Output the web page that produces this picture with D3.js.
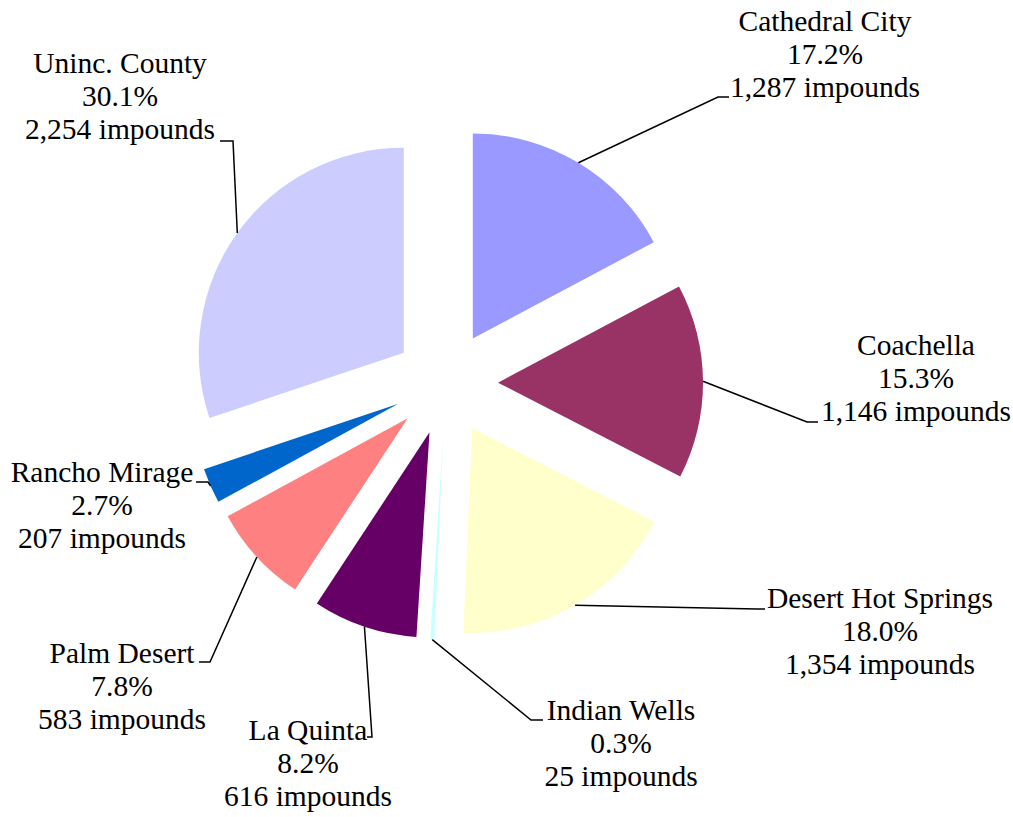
<!DOCTYPE html>
<html>
<head>
<meta charset="utf-8">
<script src="https://cdn.jsdelivr.net/npm/d3@7"></script>
<style>
  html, body { margin: 0; padding: 0; background: #fff; }
  svg { display: block; }
</style>
</head>
<body>
<div id="chart-container"></div>
<script>
// Impounds by city (exploded pie)
const cities = ["Cathedral City", "Coachella", "Desert Hot Springs", "Indian Wells",
  "La Quinta", "Palm Desert", "Rancho Mirage", "Uninc. County"];
const impounds = [1287, 1146, 1354, 25, 616, 583, 207, 2254];
const percentLabels = ["17.2%", "15.3%", "18.0%", "0.3%", "8.2%", "7.8%", "2.7%", "30.1%"];
const colors = ["#9999FF", "#993366", "#FFFFCC", "#CCFFFF", "#660066", "#FF8080", "#0066CC", "#CCCCFF"];

// label layout: text centre x, first baseline y, leader end (ex, ey), elbow offset in x
const labelLayout = [
  { x: 825, y: 31, ex: 729, ey: 97, dx: -11 },
  { x: 916, y: 355, ex: 818, ey: 422, dx: -11 },
  { x: 880, y: 608, ex: 765, ey: 609, dx: -8 },
  { x: 621, y: 720, ex: 543, ey: 720, dx: -12 },
  { x: 308, y: 740, ex: 367, ey: 737, dx: 5 },
  { x: 122, y: 663, ex: 199, ey: 662, dx: 11 },
  { x: 102, y: 482, ex: 196, ey: 482, dx: 12 },
  { x: 120, y: 73, ex: 220, ey: 141, dx: 13 }
];

const width = 1013, height = 817;
const cx = 446, cy = 383, radius = 205, explode = 52;
const fontSize = 29.5, lineH = 33;
const fontFam = '"Liberation Serif"';

const svg = d3.select("#chart-container").append("svg")
  .attr("width", width)
  .attr("height", height);

const data = cities.map((c, i) => ({ city: c, value: impounds[i], pct: percentLabels[i], color: colors[i], lab: labelLayout[i] }));

const pie = d3.pie().sort(null).value(d => d.value);
const arcs = pie(data);
const arc = d3.arc().innerRadius(0).outerRadius(radius);

const g = svg.append("g").attr("transform", `translate(${cx},${cy})`);

function midAngle(d) { return (d.startAngle + d.endAngle) / 2; }
function offset(d, r) {
  const a = midAngle(d);
  return [Math.sin(a) * r, -Math.cos(a) * r];
}

// slices
g.selectAll("path.slice")
  .data(arcs)
  .join("path")
  .attr("class", "slice")
  .attr("d", arc)
  .attr("fill", d => d.data.color)
  .attr("transform", d => {
    const [ox, oy] = offset(d, explode);
    return `translate(${ox},${oy})`;
  });

// leader lines
svg.selectAll("polyline.leader")
  .data(arcs)
  .join("polyline")
  .attr("class", "leader")
  .attr("fill", "none")
  .attr("stroke", "#000")
  .attr("stroke-width", 1.5)
  .attr("points", d => {
    const [sx, sy] = offset(d, explode + radius);
    const L = d.data.lab;
    return [[cx + sx, cy + sy], [L.ex + L.dx, L.ey], [L.ex, L.ey]].map(p => p.join(",")).join(" ");
  });

// labels: one text element per line
const fmt = d3.format(",");
const lines = [];
arcs.forEach(d => {
  const L = d.data.lab;
  [d.data.city, d.data.pct, fmt(d.data.value) + " impounds"].forEach((s, i) => {
    lines.push({ s, x: L.x, y: L.y + i * lineH });
  });
});

svg.selectAll("text.label")
  .data(lines)
  .join("text")
  .attr("class", "label")
  .attr("x", d => d.x)
  .attr("y", d => d.y)
  .attr("text-anchor", "middle")
  .style("font-family", fontFam)
  .style("font-size", fontSize + "px")
  .attr("fill", "#000")
  .text(d => d.s);
</script>
</body>
</html>
